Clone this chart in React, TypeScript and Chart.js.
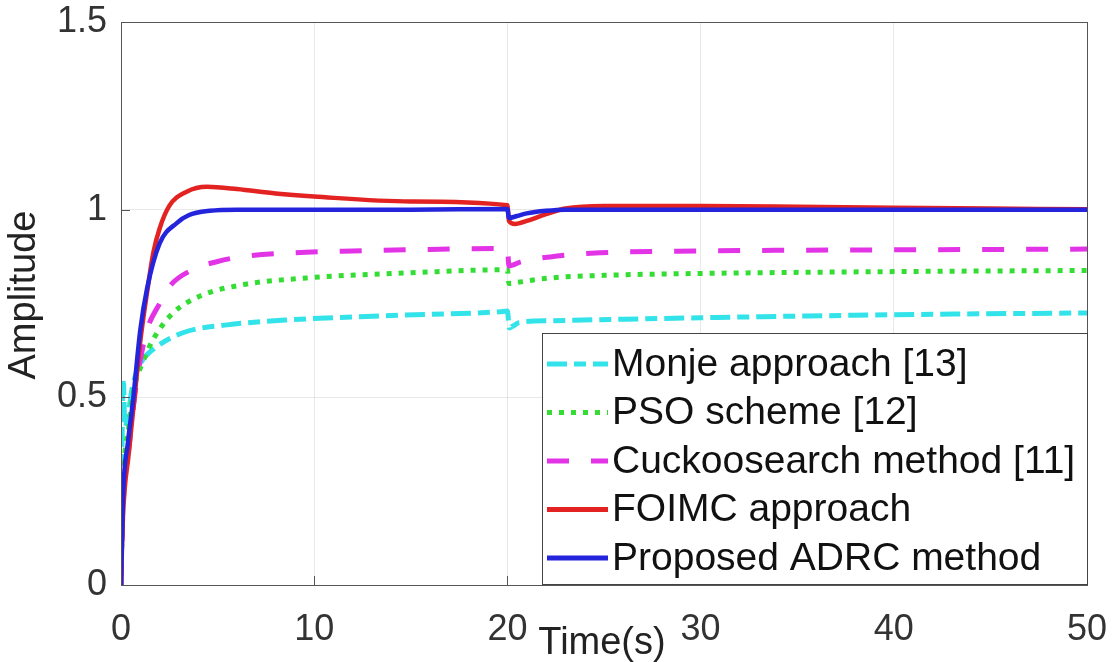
import React, { useEffect, useRef } from "react";
import { Chart, registerables } from "chart.js";

Chart.register(...registerables);

// ---- Data ----
const tAdrc = [0, 0.1, 0.36, 0.62, 1.0, 1.35, 2.0, 2.9, 3.5, 4.6, 6, 10, 15, 20, 20.08, 20.5, 21, 22, 23, 30, 40, 50];
const yAdrc = [0, 0.23, 0.38, 0.49, 0.68, 0.79, 0.91, 0.965, 0.985, 0.997, 1.0, 1.0, 1.0, 1.002, 0.978, 0.983, 0.99, 0.997, 1.0, 1.0, 1.0, 1.0];

const tFoimc = [0, 0.1, 0.4, 0.7, 1.0, 1.35, 1.67, 2.0, 2.5, 3.4, 4.45, 6, 8, 10, 15, 20, 20.08, 20.4, 21, 22, 23, 25, 30, 35, 40, 45, 50];
const yFoimc = [0, 0.18, 0.35, 0.5, 0.65, 0.78, 0.885, 0.95, 1.01, 1.048, 1.061, 1.055, 1.043, 1.035, 1.022, 1.012, 0.97, 0.962, 0.97, 0.988, 1.003, 1.01, 1.01, 1.008, 1.005, 1.003, 1.001];

const tCuckoo = [0, 0.1, 0.4, 0.7, 1.0, 1.35, 2.0, 2.5, 3.7, 5, 6.3, 8.9, 12, 16, 20, 20.08, 20.3, 20.7, 22.7, 24.8, 30, 40, 50];
const yCuckoo = [0, 0.2, 0.36, 0.5, 0.6, 0.68, 0.75, 0.795, 0.84, 0.862, 0.875, 0.885, 0.89, 0.894, 0.897, 0.85, 0.853, 0.861, 0.877, 0.885, 0.89, 0.893, 0.895];

const tPso = [0, 0.1, 0.4, 0.7, 1.1, 1.65, 2.7, 4.1, 6.3, 9.6, 15, 20, 20.08, 20.5, 22.2, 25, 30, 40, 50];
const yPso = [0, 0.25, 0.42, 0.53, 0.59, 0.653, 0.725, 0.77, 0.8, 0.818, 0.832, 0.84, 0.803, 0.806, 0.818, 0.825, 0.83, 0.835, 0.838];

const tMonje = [0, 0.05, 0.12, 0.2, 0.35, 0.6, 1.0, 1.65, 3.2, 5.5, 8.9, 14, 19.6, 20.0, 20.1, 20.3, 20.6, 22.2, 30, 40, 50];
const yMonje = [0, 0.35, 0.55, 0.42, 0.45, 0.53, 0.59, 0.627, 0.672, 0.693, 0.707, 0.718, 0.728, 0.73, 0.685, 0.69, 0.699, 0.704, 0.712, 0.72, 0.725];

const xTickValues = [0, 10, 20, 30, 40, 50];
const yTickValues = [0, 0.5, 1, 1.5];

const seriesNames = ["Monje approach [13]", "PSO scheme [12]", "Cuckoosearch method [11]", "FOIMC approach", "Proposed ADRC method"];
const seriesColors = ["#33e3ea", "#33dd33", "#e333e6", "#e32222", "#2424dc"];
const seriesDashes: number[][] = [[20, 7, 12, 7], [5, 7], [22, 22], [], []];

const xLabel = "Time(s)";
const yLabel = "Amplitude";

const FONT = '"Liberation Sans", Arial, Helvetica, sans-serif';

function pts(t: number[], y: number[]) {
  return t.map((v, i) => ({ x: v, y: y[i] }));
}

const framePlugin = {
  id: "frame",
  afterDraw(chart: any) {
    const { ctx, chartArea } = chart;
    const { left, right, top, bottom } = chartArea;
    const xs = chart.scales.x;
    const ys = chart.scales.y;
    ctx.save();
    // box
    ctx.strokeStyle = "#555";
    ctx.lineWidth = 1;
    ctx.setLineDash([]);
    ctx.strokeRect(Math.round(left) + 0.5, Math.round(top) + 0.5, Math.round(right - left), Math.round(bottom - top));
    // inside ticks
    ctx.beginPath();
    xTickValues.forEach((v) => {
      const px = Math.round(xs.getPixelForValue(v)) + 0.5;
      ctx.moveTo(px, bottom);
      ctx.lineTo(px, bottom - 9);
    });
    yTickValues.forEach((v) => {
      const py = Math.round(ys.getPixelForValue(v)) + 0.5;
      ctx.moveTo(left, py);
      ctx.lineTo(left + 9, py);
    });
    ctx.stroke();

    // legend
    const lw = 545;
    const lh = 251;
    const lx = right - lw;
    const ly = bottom - 1 - lh;
    ctx.fillStyle = "#ffffff";
    ctx.fillRect(lx, ly, lw, lh);
    ctx.strokeStyle = "#444";
    ctx.lineWidth = 1;
    ctx.strokeRect(Math.round(lx) + 0.5, Math.round(ly) + 0.5, lw, lh);
    const rowH = 48.5;
    const firstY = ly + 31;
    ctx.font = `39px ${FONT}`;
    ctx.textBaseline = "middle";
    ctx.textAlign = "left";
    seriesNames.forEach((name, i) => {
      const cy = firstY + i * rowH;
      ctx.strokeStyle = seriesColors[i];
      ctx.lineWidth = 5;
      ctx.lineCap = "butt";
      ctx.setLineDash(seriesDashes[i]);
      ctx.beginPath();
      ctx.moveTo(lx + 5, cy);
      ctx.lineTo(lx + 66, cy);
      ctx.stroke();
      ctx.setLineDash([]);
      ctx.fillStyle = "#111";
      ctx.fillText(name, lx + 70, cy + 1);
    });

    // axis titles
    ctx.fillStyle = "#222";
    ctx.font = `38px ${FONT}`;
    ctx.textAlign = "center";
    ctx.textBaseline = "alphabetic";
    ctx.fillText(xLabel, 602, 654);
    ctx.save();
    ctx.translate(35, 295);
    ctx.rotate(-Math.PI / 2);
    ctx.fillText(yLabel, 0, 0);
    ctx.restore();
    ctx.restore();
  },
};

export default function App() {
  const ref = useRef<HTMLCanvasElement | null>(null);
  useEffect(() => {
    if (!ref.current) return;
    const tSets = [tAdrc, tFoimc, tCuckoo, tPso, tMonje];
    const ySets = [yAdrc, yFoimc, yCuckoo, yPso, yMonje];
    const idx = [4, 3, 2, 1, 0];
    const datasets = idx.map((k, j) => ({
      label: seriesNames[k],
      data: pts(tSets[j], ySets[j]),
      borderColor: seriesColors[k],
      borderWidth: k >= 3 ? 4.5 : 5,
      borderDash: seriesDashes[k],
      borderCapStyle: "butt" as const,
      pointRadius: 0,
      fill: false,
      cubicInterpolationMode: "monotone" as const,
    }));
    const chart = new Chart(ref.current, {
      type: "line",
      data: { datasets },
      options: {
        responsive: false,
        animation: false,
        devicePixelRatio: 1,
        layout: { padding: { top: 22, right: 27, left: 0, bottom: 0 } },
        plugins: { legend: { display: false }, tooltip: { enabled: false }, title: { display: false } },
        scales: {
          x: {
            type: "linear",
            min: 0,
            max: 50,
            afterBuildTicks: (s: any) => {
              s.ticks = xTickValues.map((v) => ({ value: v }));
            },
            afterFit: (s: any) => {
              s.height = 77;
              s.paddingLeft = 0;
              s.paddingRight = 0;
              s.paddingTop = 0;
              s.paddingBottom = 0;
            },
            grid: { color: "rgba(0,0,0,0.09)", drawTicks: false },
            border: { display: false },
            ticks: {
              padding: 23,
              color: "#333",
              font: { family: FONT, size: 36 },
              maxRotation: 0,
              callback: (v: any) => String(v),
            },
          },
          y: {
            type: "linear",
            min: 0,
            max: 1.5,
            afterBuildTicks: (s: any) => {
              s.ticks = yTickValues.map((v) => ({ value: v }));
            },
            afterFit: (s: any) => {
              s.width = 121;
              s.paddingLeft = 0;
              s.paddingRight = 0;
              s.paddingTop = 0;
              s.paddingBottom = 0;
            },
            grid: { color: "rgba(0,0,0,0.09)", drawTicks: false },
            border: { display: false },
            ticks: {
              padding: 14,
              color: "#333",
              font: { family: FONT, size: 36 },
              callback: (v: any) => String(v),
            },
          },
        },
      },
      plugins: [framePlugin],
    });
    return () => chart.destroy();
  }, []);
  return (
    <div style={{ position: "absolute", left: 0, top: 0, width: 1114, height: 662, background: "#fff" }}>
      <canvas ref={ref} width={1114} height={662} style={{ width: 1114, height: 662, display: "block" }} />
    </div>
  );
}
